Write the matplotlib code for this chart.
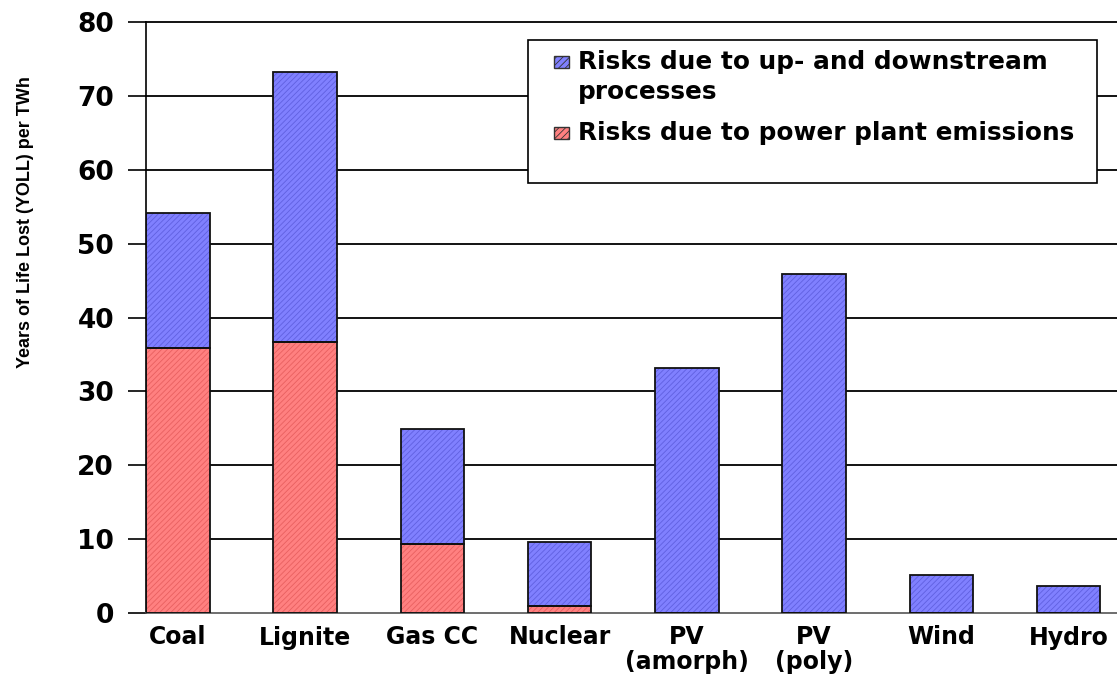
import numpy as np
import matplotlib.pyplot as plt
from matplotlib.patches import Rectangle

categories = ['Coal', 'Lignite', 'Gas CC', 'Nuclear', 'PV\n(amorph)', 'PV\n(poly)', 'Wind', 'Hydro']
plant_emissions = [35.9, 36.7, 9.3, 0.95, 0.0, 0.0, 0.0, 0.0]
totals = [54.1, 73.2, 24.9, 9.6, 33.2, 45.9, 5.1, 3.65]
updown = [t - p for t, p in zip(totals, plant_emissions)]

legend_lines = ['Risks due to up- and downstream', 'processes', 'Risks due to power plant emissions']

blue = '#8080ff'
red = '#ff8080'

plt.rcParams['hatch.linewidth'] = 0.6

W, H = 1117, 676
fig = plt.figure(figsize=(W / 100, H / 100), dpi=100)
ax = fig.add_axes([146 / W, 63 / H, 971 / W, 591 / H])

x = np.arange(len(categories))
w = 0.5

def stacked(vals, bottom, face, hatchc):
    # hatched fill first, then plain black outline on top
    ax.bar(x, vals, w, bottom=bottom, color=face, edgecolor=hatchc, hatch='//////',
           linewidth=0, zorder=2)
    ax.bar(x, vals, w, bottom=bottom, fill=False, edgecolor='#111111', linewidth=1.3, zorder=3)

stacked(plant_emissions, 0, red, '#e86060')
stacked(updown, plant_emissions, blue, '#6060e0')

ax.set_xlim(-0.25, 7.38)
ax.set_ylim(0, 80)
ax.set_yticks(range(0, 81, 10))
for v in range(10, 81, 10):
    ax.axhline(v, color='black', linewidth=1.3, zorder=1, clip_on=False)

for s in ['top', 'right']:
    ax.spines[s].set_visible(False)
ax.spines['left'].set_linewidth(1.2)
ax.spines['bottom'].set_color('#555555')
ax.spines['bottom'].set_linewidth(1.2)

ax.tick_params(axis='y', direction='out', length=13, width=1.2, pad=10, labelsize=19)
ax.tick_params(axis='x', length=0, pad=9, labelsize=17)
ax.set_xticks(x)
ax.set_xticklabels(categories, fontweight='bold', family='DejaVu Sans', linespacing=1.05)
for lab in ax.get_yticklabels():
    lab.set_fontweight('bold')
    lab.set_family('DejaVu Sans')

ax.set_ylabel('Years of Life Lost (YOLL) per TWh', fontsize=13, fontweight='bold',
              family='Liberation Sans')
ax.yaxis.set_label_coords(-0.115, 0.662)

# legend box, drawn by hand so the marker sits on the first text line
fig.patches.append(Rectangle((528 / W, 1 - 183 / H), 569 / W, 143 / H,
                             transform=fig.transFigure, facecolor='white', edgecolor='black',
                             linewidth=1.2, zorder=5))
for y0, face, hc in [(68, blue, '#6060e0'), (139, red, '#e86060')]:
    fig.patches.append(Rectangle((554 / W, 1 - y0 / H), 15 / W, 12 / H,
                                 transform=fig.transFigure, facecolor=face, edgecolor='#333333',
                                 hatch='/////', linewidth=1.0, zorder=6))
for txt, base in zip(legend_lines, [69, 99, 140]):
    fig.text(578 / W, 1 - base / H, txt, ha='left', va='baseline', fontsize=17.8,
             fontweight='bold', family='DejaVu Sans', zorder=7)

fig.savefig('out.png', dpi=100)
